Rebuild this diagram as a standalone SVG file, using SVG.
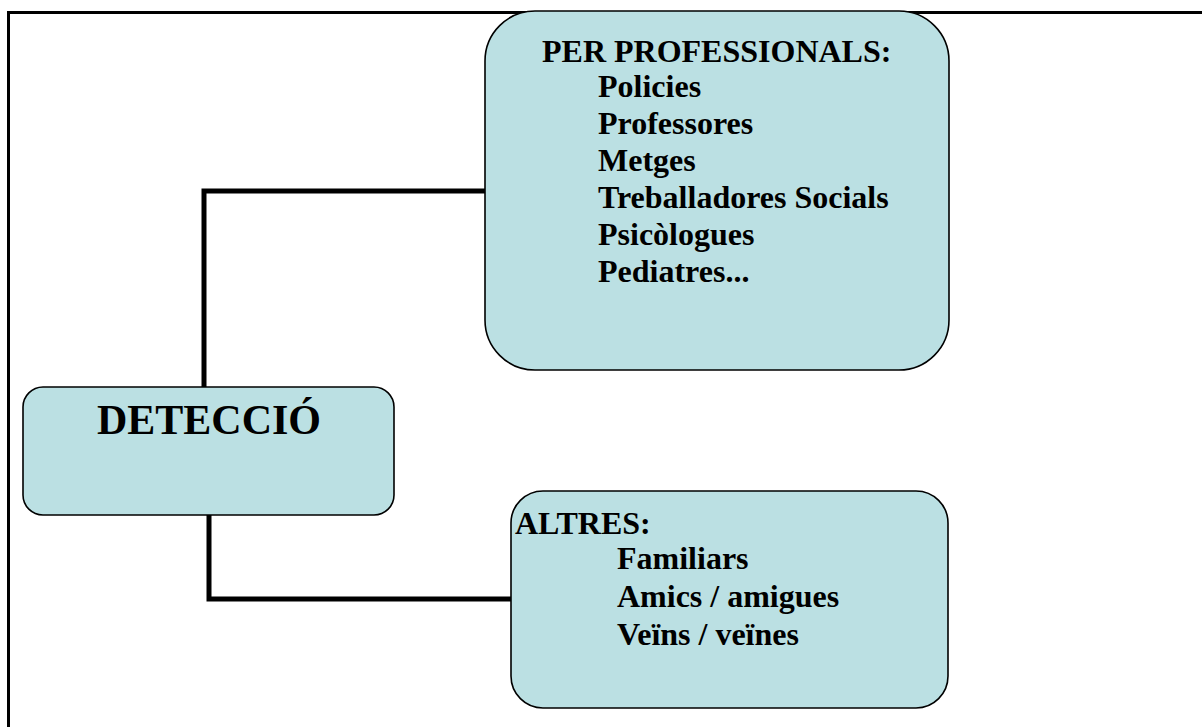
<svg xmlns="http://www.w3.org/2000/svg" width="1202" height="727" viewBox="0 0 1202 727">
<style>
.box{fill:#BBE0E3;stroke:#000;stroke-width:1.6}
.t{font-family:"Liberation Serif","Times New Roman",serif;font-weight:bold;font-size:32px;fill:#000}
.big{font-size:42px}
.conn{fill:none;stroke:#000;stroke-width:5;stroke-linejoin:miter}
.frame{fill:none;stroke:#000;stroke-width:3}
</style>
<rect width="1202" height="727" fill="#fff"/>
<path class="frame" d="M8.5 727 V12.5 H1202"/>
<g id="connectors">
<path class="conn" d="M204 388 V191 H486"/>
<path class="conn" d="M209 515 V599 H512"/>
</g>
<g id="professionals">
<rect class="box" x="485" y="11" width="464" height="359" rx="50" ry="50"/>
<text class="t" x="542" y="62">PER PROFESSIONALS:</text>
<text class="t" x="598" y="97">Policies</text>
<text class="t" x="598" y="134">Professores</text>
<text class="t" x="598" y="171">Metges</text>
<text class="t" x="598" y="208">Treballadores Socials</text>
<text class="t" x="598" y="245">Psicòlogues</text>
<text class="t" x="598" y="282">Pediatres...</text>
</g>
<g id="deteccio">
<rect class="box" x="23" y="387" width="371" height="128" rx="20" ry="20"/>
<text class="t big" x="209" y="434" text-anchor="middle">DETECCIÓ</text>
</g>
<g id="altres">
<rect class="box" x="511" y="491" width="437" height="217" rx="32" ry="32"/>
<text class="t" x="515" y="534">ALTRES:</text>
<text class="t" x="617" y="569">Familiars</text>
<text class="t" x="617" y="607">Amics / amigues</text>
<text class="t" x="617" y="645">Veïns / veïnes</text>
</g>
</svg>
